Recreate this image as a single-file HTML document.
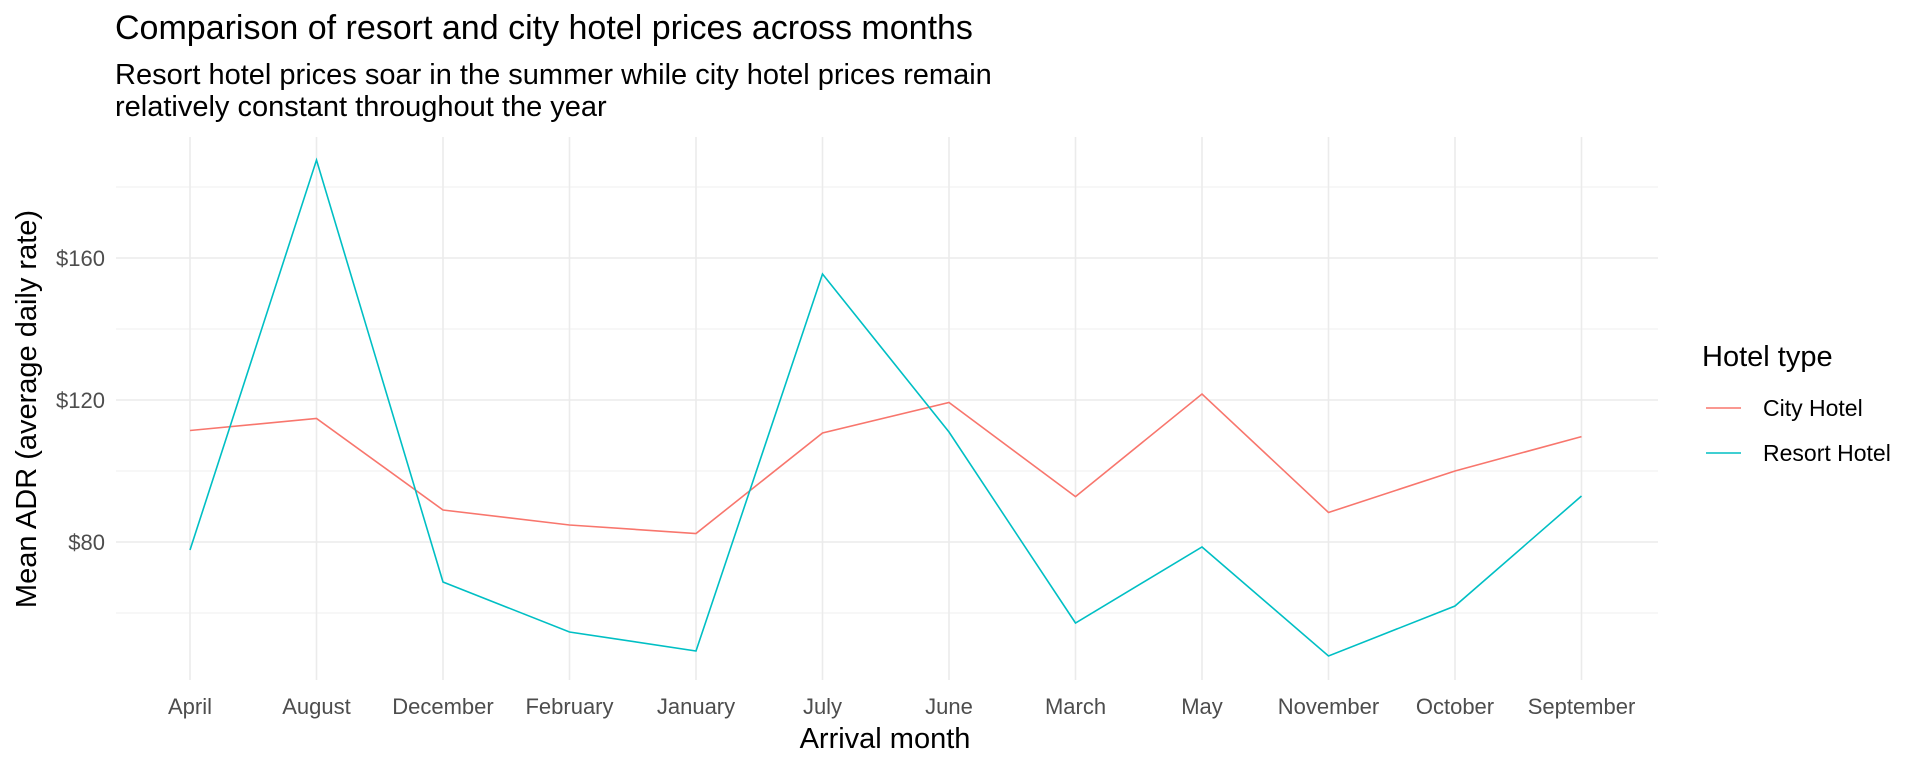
<!DOCTYPE html>
<html><head><style>body{margin:0;background:#fff}svg{display:block}text{font-family:"Liberation Sans",Arial,sans-serif}</style></head>
<body>
<svg width="1920" height="768" viewBox="0 0 1920 768">
<g stroke="#efefef" stroke-width="1">
<line x1="116" x2="1658" y1="187" y2="187"/><line x1="116" x2="1658" y1="329" y2="329"/><line x1="116" x2="1658" y1="471" y2="471"/><line x1="116" x2="1658" y1="613" y2="613"/>
</g>
<g stroke="#ebebeb" stroke-width="1.6">
<line x1="116" x2="1658" y1="258" y2="258"/><line x1="116" x2="1658" y1="400" y2="400"/><line x1="116" x2="1658" y1="542" y2="542"/>
<line x1="190" x2="190" y1="137" y2="680"/><line x1="316.5" x2="316.5" y1="137" y2="680"/><line x1="443" x2="443" y1="137" y2="680"/><line x1="569.5" x2="569.5" y1="137" y2="680"/><line x1="696" x2="696" y1="137" y2="680"/><line x1="822.5" x2="822.5" y1="137" y2="680"/><line x1="949" x2="949" y1="137" y2="680"/><line x1="1075.5" x2="1075.5" y1="137" y2="680"/><line x1="1202" x2="1202" y1="137" y2="680"/><line x1="1328.5" x2="1328.5" y1="137" y2="680"/><line x1="1455" x2="1455" y1="137" y2="680"/><line x1="1581.5" x2="1581.5" y1="137" y2="680"/>
</g>
<polyline fill="none" stroke="#f8766d" stroke-width="1.6" points="190,430.5 316.5,418.5 443,510 569.5,525 696,533.5 822.5,433 949,402.5 1075.5,496.6 1202,394 1328.5,512.5 1455,471 1581.5,436.6"/>
<polyline fill="none" stroke="#00bfc4" stroke-width="1.6" points="190,550 316.5,160 443,582 569.5,632 696,651 822.5,274 949,432 1075.5,623 1202,547 1328.5,656 1455,606 1581.5,496"/>
<g font-size="22" fill="#4d4d4d" text-anchor="end">
<text x="105" y="266">$160</text><text x="105" y="408">$120</text><text x="105" y="550">$80</text>
</g>
<g font-size="22" fill="#4d4d4d" text-anchor="middle">
<text x="190" y="714">April</text><text x="316.5" y="714">August</text><text x="443" y="714">December</text><text x="569.5" y="714">February</text><text x="696" y="714">January</text><text x="822.5" y="714">July</text><text x="949" y="714">June</text><text x="1075.5" y="714">March</text><text x="1202" y="714">May</text><text x="1328.5" y="714">November</text><text x="1455" y="714">October</text><text x="1581.5" y="714">September</text>
</g>
<text x="885" y="748" font-size="29" text-anchor="middle" fill="#000">Arrival month</text>
<text transform="translate(36,409) rotate(-90)" font-size="29" text-anchor="middle" fill="#000">Mean ADR (average daily rate)</text>
<text x="115" y="39" font-size="34" fill="#000">Comparison of resort and city hotel prices across months</text>
<text x="115" y="84" font-size="29" fill="#000">Resort hotel prices soar in the summer while city hotel prices remain</text>
<text x="115" y="116" font-size="29" fill="#000">relatively constant throughout the year</text>
<text x="1702" y="366" font-size="29" fill="#000">Hotel type</text>
<line x1="1706" x2="1741" y1="408" y2="408" stroke="#f8766d" stroke-width="1.6"/>
<line x1="1706" x2="1741" y1="453" y2="453" stroke="#00bfc4" stroke-width="1.6"/>
<text x="1763" y="416" font-size="23" fill="#000">City Hotel</text>
<text x="1763" y="461" font-size="23" fill="#000">Resort Hotel</text>
</svg>
</body></html>
